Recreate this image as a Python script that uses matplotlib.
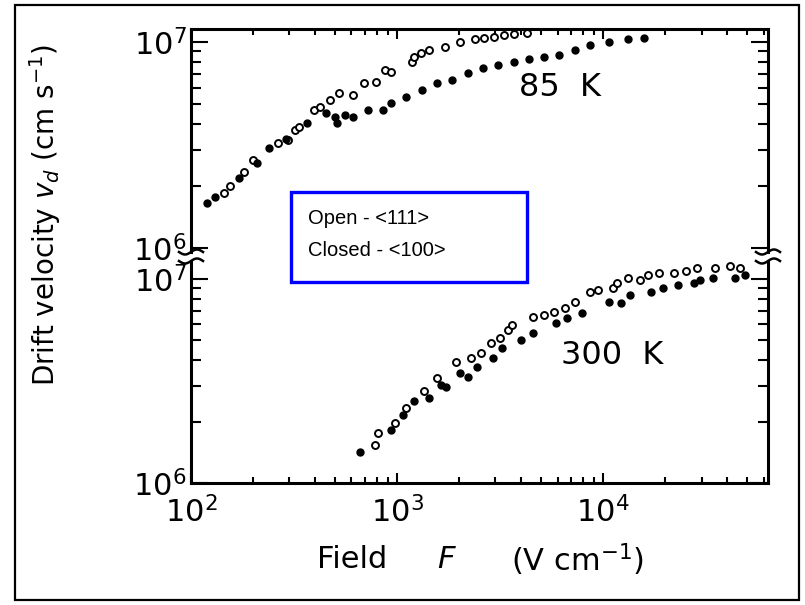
import numpy as np
import matplotlib.pyplot as plt
from matplotlib.patches import Rectangle
from matplotlib.lines import Line2D
from matplotlib.ticker import LogLocator, NullFormatter

#%% data (field in V/cm, drift velocity in cm/s)

f85_open = [145, 155, 180, 200, 264, 294, 320, 334, 397, 423, 471, 524, 608, 692,
            787, 875, 934, 1180, 1207, 1300, 1432, 1700, 2015, 2392, 2650, 2965,
            3300, 3670, 4265]
v85_open = [1.85e6, 1.99e6, 2.35e6, 2.67e6, 3.22e6, 3.34e6, 3.74e6, 3.88e6, 4.68e6,
            4.86e6, 5.23e6, 5.64e6, 5.53e6, 6.31e6, 6.42e6, 7.31e6, 7.18e6, 8.02e6,
            8.48e6, 8.8e6, 9.15e6, 9.49e6, 1.0e7, 1.04e7, 1.05e7, 1.06e7, 1.08e7,
            1.10e7, 1.11e7]

f85_closed = [120, 131, 170, 210, 238, 290, 365, 451, 502, 513, 559, 609, 722, 858,
              934, 1108, 1315, 1560, 1850, 2196, 2605, 3090, 3670, 4355, 5165, 6125,
              7270, 8630, 10690, 13240, 15710]
v85_closed = [1.66e6, 1.77e6, 2.2e6, 2.6e6, 3.05e6, 3.4e6, 4.03e6, 4.51e6, 4.34e6,
              4.03e6, 4.43e6, 4.34e6, 4.68e6, 4.68e6, 5.04e6, 5.42e6, 5.85e6, 6.30e6,
              6.54e6, 7.05e6, 7.45e6, 7.73e6, 8.02e6, 8.24e6, 8.48e6, 8.65e6, 9.15e6,
              9.67e6, 1.0e7, 1.03e7, 1.05e7]

f300_open = [780, 804, 975, 1108, 1344, 1560, 1932, 2293, 2552, 2840, 3160, 3445, 3593,
             4550, 5165, 5750, 6545, 7270, 8630, 9400, 11160, 11650, 13240, 15070,
             16410, 18640, 22130, 25140, 28580, 34990, 41400, 46240]
v300_open = [1.54e6, 1.75e6, 1.96e6, 2.32e6, 2.81e6, 3.26e6, 3.93e6, 4.09e6, 4.32e6,
             4.84e6, 5.12e6, 5.62e6, 5.95e6, 6.53e6, 6.66e6, 6.92e6, 7.18e6, 7.74e6,
             8.67e6, 8.84e6, 9.0e6, 9.53e6, 1.01e7, 9.89e6, 1.05e7, 1.07e7, 1.07e7,
             1.09e7, 1.13e7, 1.13e7, 1.16e7, 1.13e7]

f300_closed = [662, 934, 1062, 1208, 1432, 1630, 1735, 2015, 2196, 2445, 2903, 3230,
               4000, 4550, 5875, 6680, 7930, 10690, 12160, 13520, 17130, 19470, 23100,
               27420, 29580, 34200, 43750, 48900]
v300_closed = [1.42e6, 1.82e6, 2.15e6, 2.51e6, 2.60e6, 3.02e6, 2.96e6, 3.45e6, 3.32e6,
               3.72e6, 4.09e6, 4.57e6, 5.02e6, 5.42e6, 6.07e6, 6.42e6, 6.79e6, 7.74e6,
               7.60e6, 8.35e6, 8.67e6, 9.0e6, 9.35e6, 9.6e6, 9.9e6, 1.01e7, 1.01e7,
               1.05e7]

x_lim = (100, 6.3e4)
y_lim_85 = (0.957e6, 1.157e7)
y_lim_300 = (1e6, 1.21e7)

#%% figure

W, H = 805, 605
fig = plt.figure(figsize=(W / 100, H / 100), dpi=100)


def fx(px):
    return px / W


def fy(py):
    return 1 - py / H


ax_top = fig.add_axes([fx(191), fy(252), fx(768) - fx(191), fy(29) - fy(252)])
ax_bot = fig.add_axes([fx(191), fy(483), fx(768) - fx(191), fy(262) - fy(483)])

for ax in (ax_top, ax_bot):
    ax.set_xscale("log")
    ax.set_yscale("log")
    ax.set_xlim(*x_lim)
    for s in ax.spines.values():
        s.set_linewidth(2.2)
    ax.xaxis.set_minor_locator(LogLocator(base=10, subs=np.arange(2, 10)))
    ax.yaxis.set_minor_locator(LogLocator(base=10, subs=np.arange(2, 10)))
    ax.xaxis.set_minor_formatter(NullFormatter())
    ax.yaxis.set_minor_formatter(NullFormatter())
    ax.tick_params(which="both", direction="in", top=True, right=True, width=1.5,
                   labelsize=22, pad=3)
    ax.tick_params(axis="y", which="major", length=12)
    ax.tick_params(axis="y", which="minor", length=7)
    ax.tick_params(axis="x", which="major", length=7)
    ax.tick_params(axis="x", which="minor", length=4)
    ax.set_yticks([1e6, 1e7])

ax_top.set_ylim(*y_lim_85)
ax_bot.set_ylim(*y_lim_300)

ax_top.spines["bottom"].set_visible(False)
ax_top.tick_params(which="both", bottom=False, labelbottom=False)
ax_bot.spines["top"].set_visible(False)
ax_bot.tick_params(which="both", top=False)
ax_bot.tick_params(axis="x", which="major", pad=9)

# 85 K
ax_top.plot(f85_open, v85_open, "o", ms=5, mfc="white", mec="black", mew=1.4, clip_on=False)
ax_top.plot(f85_closed, v85_closed, "o", ms=5, color="black", clip_on=False)
# 300 K
ax_bot.plot(f300_open, v300_open, "o", ms=5, mfc="white", mec="black", mew=1.4, clip_on=False)
ax_bot.plot(f300_closed, v300_closed, "o", ms=5, color="black", clip_on=False)

fig.text(fx(519), fy(88), "85  K", fontsize=23, ha="left", va="center")
fig.text(fx(561), fy(355), "300  K", fontsize=23, ha="left", va="center")

# axis labels
fig.text(fx(45), fy(215), r"Drift velocity $v_d$ (cm s$^{-1}$)", rotation=90,
         fontsize=20, ha="center", va="center")
fig.text(fx(352), fy(560), "Field", fontsize=22, ha="center", va="center")
fig.text(fx(447), fy(560), r"$F$", fontsize=22, ha="center", va="center")
fig.text(fx(577), fy(560), r"(V cm$^{-1}$)", fontsize=22, ha="center", va="center")

# break marks on both sides
t = np.linspace(0, 1, 30)
for cx in (191, 768):
    for cy in (252, 261):
        xs = cx - 12 + 24 * t
        ys = cy + 2.5 * np.sin(2 * np.pi * t)
        fig.add_artist(Line2D(fx(xs), fy(ys), color="black", lw=1.8))

# blue legend box
fig.add_artist(Rectangle((fx(291), fy(282)), fx(527) - fx(291), fy(192) - fy(282),
                         fill=False, edgecolor="#0000FF", lw=2.4))
fig.text(fx(308), fy(218), "Open - <111>", fontsize=14.5, family="Liberation Sans",
         ha="left", va="center")
fig.text(fx(308), fy(251), "Closed - <100>", fontsize=14.5, family="Liberation Sans",
         ha="left", va="center")

# outer frame
fig.add_artist(Rectangle((fx(15), fy(600)), fx(799) - fx(15), fy(5) - fy(600),
                         fill=False, edgecolor="black", lw=1.6))

plt.savefig("out.png", dpi=100)
